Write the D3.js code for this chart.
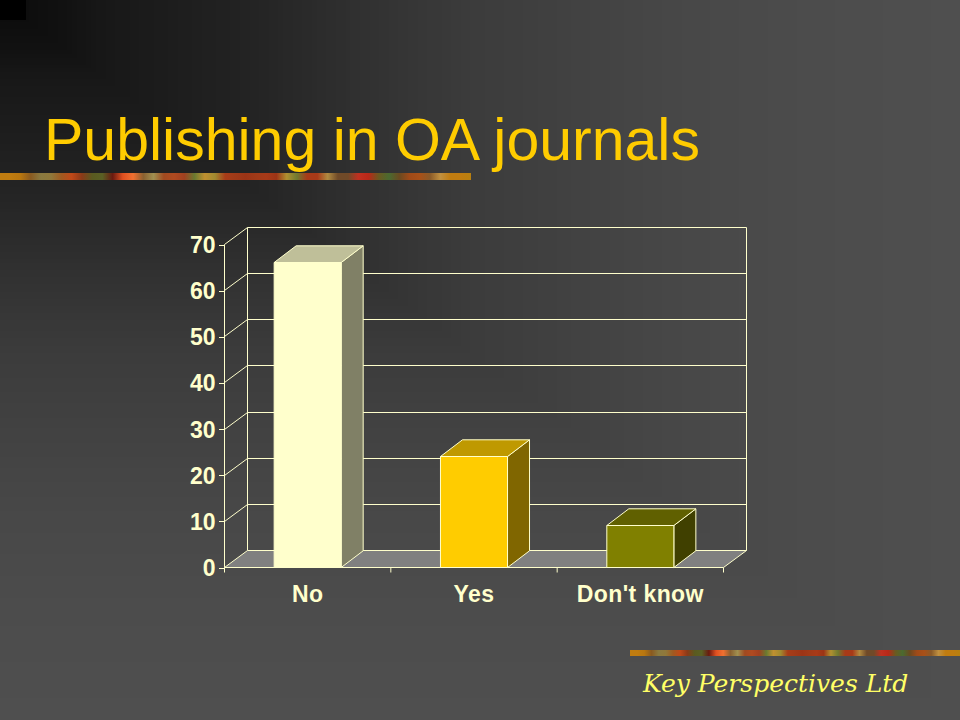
<!DOCTYPE html>
<html><head><meta charset="utf-8">
<script src="https://cdn.jsdelivr.net/npm/d3@7"></script>
<style>html,body{margin:0;padding:0;background:#4f4f4f}svg{display:block}</style>
</head><body><svg id="c" width="960" height="720"></svg>
<script>
const titleText = "Publishing in OA journals";
const footerText = "Key Perspectives Ltd";
const categories = ["No", "Yes", "Don't know"];
const values = [66, 24, 9];
const yTicks = [0, 10, 20, 30, 40, 50, 60, 70];
const frontColors = ["#ffffcc", "#ffcc00", "#808000"];
const topColors = ["#bfbf99", "#bf9900", "#606000"];
const sideColors = ["#808066", "#806600", "#404000"];
const stripeColors = ["#c07c10","#c07c10","#b8760f","#8a5a20","#8a7a40","#90783a","#a05a20","#c04818","#8a3a18","#5a5a20","#5a6024","#6a1a10","#e05020","#f07030","#8a6030","#a09050","#a04a20","#b04a20","#a04020","#6a7a30","#c09030","#a08a30","#a83c18","#a03a18","#9c3416","#a03a18","#a83a18","#9c3416","#b09030","#707a30","#a83a18","#a83a18","#b08a40","#704a28","#704a28","#c03020","#b82818","#6a5a20","#4a6a30","#6a4a20","#a04a18","#a85018","#8a5a28","#c09040","#c07c10","#c07c10","#b8800f"];
const shadeStops = [[0,"#0a0a0a"],[0.068,"#111111"],[0.1,"#161616"],[0.13,"#191919"],[0.26,"#232323"],[0.4,"#333333"],[0.5,"#3c3c3c"],[0.7,"#474747"],[0.85,"#4c4c4c"],[1,"#4f4f4f"]];

const svg = d3.select("#c");
const defs = svg.append("defs");
const sg = defs.append("linearGradient").attr("id","stripe");
stripeColors.forEach((c,i)=>sg.append("stop").attr("offset",i/(stripeColors.length-1)).attr("stop-color",c));

// rectangular gradient from the top-left corner
const shade = d3.scaleLinear().domain(shadeStops.map(d=>d[0])).range(shadeStops.map(d=>d[1])).interpolate(d3.interpolateRgb);
const levels = d3.range(200,0,-1).map(i=>i/200);
svg.append("g").attr("shape-rendering","crispEdges").selectAll("rect").data(levels).join("rect")
  .attr("width",t=>960*t).attr("height",t=>720*t).attr("fill",t=>shade(t));
svg.append("rect").attr("width",26).attr("height",20).attr("fill","#000");

svg.append("rect").attr("x",0).attr("y",173).attr("width",471).attr("height",7).attr("fill","url(#stripe)");
svg.append("rect").attr("x",630).attr("y",650).attr("width",330).attr("height",6).attr("fill","url(#stripe)");

svg.append("text").attr("x",44).attr("y",160).attr("font-family","Liberation Sans").attr("font-size",59)
  .attr("fill","#ffcc00").text(titleText);
svg.append("text").attr("x",643).attr("y",692).attr("font-family","DejaVu Serif").attr("font-style","italic")
  .attr("font-size",25).attr("fill","#ffff66").text(footerText);

const left=224.5,right=723.5,base=567.5,top70=244.5,dx=23,dy=-17;
const x=d3.scaleBand().domain(categories).range([left,right]).paddingInner(.597).paddingOuter(.2985);
const y=d3.scaleLinear().domain([0,70]).range([base,top70]);
const line="#ffffcc";
const snap=v=>Math.floor(v)+.5;

// floor
svg.append("path").attr("d",`M${left},${base}L${left+dx},${base+dy}H${right+dx}L${right},${base}Z`).attr("fill","#808080");
// walls & gridlines
const g=svg.append("g").attr("fill","none").attr("stroke",line).attr("stroke-width",1);
g.append("path").attr("d",`M${left},${base}V${top70}M${left+dx},${base+dy}V${top70+dy}M${right+dx},${base+dy}V${top70+dy}M${left},${base}H${right}L${right+dx},${base+dy}H${left+dx}L${left},${base}`);
g.selectAll(".diag").data(yTicks.slice(1)).join("path").attr("d",v=>`M${left},${snap(y(v))}L${left+dx},${snap(y(v)+dy)}`);
g.selectAll(".grid").data(yTicks.slice(1)).join("path").attr("d",v=>`M${left+dx},${snap(y(v)+dy)}H${right+dx}`);

// axes
const ya=d3.axisLeft(y).tickValues(yTicks).tickSize(6).tickSizeOuter(0);
const yg=svg.append("g").attr("transform",`translate(${left},0)`).call(ya);
yg.select(".domain").remove();
yg.selectAll("line").attr("stroke",line).attr("shape-rendering","crispEdges");
yg.selectAll("text").attr("fill",line).attr("font-family","Liberation Sans").attr("font-weight","bold").attr("font-size",23).attr("x",-9).attr("dy","0.35em");
const xa=d3.axisBottom(x).tickSize(0);
const xg=svg.append("g").attr("transform",`translate(0,${base})`).call(xa);
xg.select(".domain").remove();
xg.selectAll("text").attr("fill",line).attr("font-family","Liberation Sans").attr("font-weight","bold").attr("font-size",23).attr("letter-spacing",0.4).attr("y",34).attr("dy",0);
const step=x.step();
svg.append("g").attr("stroke",line).selectAll("line").data(d3.range(categories.length+1)).join("line")
  .attr("x1",i=>left+i*step).attr("x2",i=>left+i*step).attr("y1",base).attr("y2",base+5);

// bars
const bars=svg.append("g").attr("stroke",line).attr("stroke-width",1).attr("stroke-linejoin","round").selectAll("g").data(categories).join("g");
const bw=x.bandwidth(), bdx=22, bdy=-16.7;
bars.append("path").attr("fill",(d,i)=>sideColors[i]).attr("d",(d,i)=>{const X=x(d)+bw,Y=snap(y(values[i]));return `M${X},${Y}L${X+bdx},${Y+bdy}V${base+bdy}L${X},${base}Z`});
bars.append("path").attr("fill",(d,i)=>topColors[i]).attr("d",(d,i)=>{const X=x(d),Y=snap(y(values[i]));return `M${X},${Y}L${X+bdx},${Y+bdy}H${X+bw+bdx}L${X+bw},${Y}Z`});
bars.append("rect").attr("fill",(d,i)=>frontColors[i]).attr("x",d=>x(d)).attr("width",bw).attr("y",(d,i)=>snap(y(values[i]))).attr("height",(d,i)=>base-snap(y(values[i])));
</script></body></html>
